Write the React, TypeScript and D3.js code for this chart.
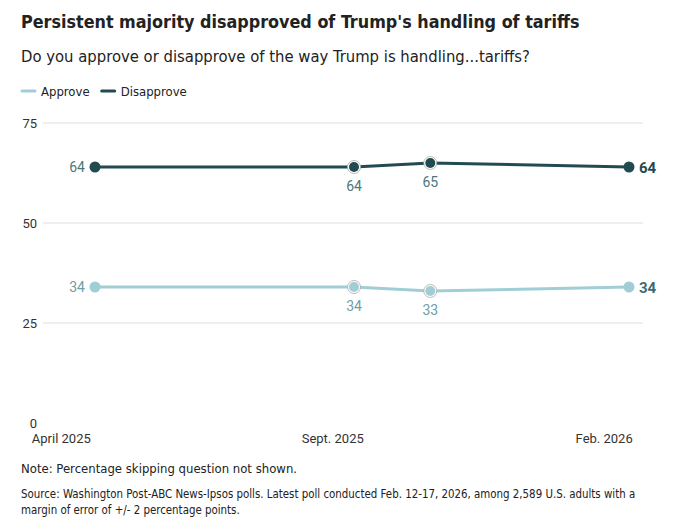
import { useEffect, useRef } from "react";
import * as d3 from "d3";

// poll field dates (midpoints) and results
const pollDates = ["2025-04-20", "2025-09-13", "2025-10-26", "2026-02-15"];
const approve = [34, 34, 33, 34];
const disapprove = [64, 64, 65, 64];
const yTicks = [0, 25, 50, 75];
const xTickDates = ["2025-04-01", "2025-09-01", "2026-02-01"];
const xTickLabels = ["April 2025", "Sept. 2025", "Feb. 2026"];

const W = 678;
const H = 522;
const LIGHT = "#a1ced5";
const DARK = "#214b51";
const COND = "'DejaVu Sans Condensed', 'Roboto', sans-serif";
const SANS = "'Roboto', 'Liberation Sans', sans-serif";

function App() {
  const svgRef = useRef<SVGSVGElement | null>(null);

  useEffect(() => {
    const svg = d3.select(svgRef.current!);
    svg.selectAll("*").remove();
    const parse = d3.timeParse("%Y-%m-%d");
    const dates = pollDates.map(d => parse(d)!);

    const x = d3.scaleTime().domain([dates[0], dates[dates.length - 1]]).range([95, 629]);
    const y = d3.scaleLinear().domain([0, 75]).range([423, 123]);

    // header
    svg.append("text").attr("x", 21).attr("y", 28).attr("font-family", COND)
      .attr("font-weight", "bold").attr("font-size", 17.8).attr("fill", "#222")
      .text("Persistent majority disapproved of Trump's handling of tariffs");
    svg.append("text").attr("x", 21).attr("y", 62).attr("font-family", COND)
      .attr("font-size", 16.5).attr("fill", "#222")
      .text("Do you approve or disapprove of the way Trump is handling...tariffs?");

    // legend
    const legend = [{ name: "Approve", c: LIGHT }, { name: "Disapprove", c: DARK }];
    let lx = 21;
    legend.forEach(l => {
      svg.append("line").attr("x1", lx + 1).attr("x2", lx + 14).attr("y1", 91).attr("y2", 91)
        .attr("stroke", l.c).attr("stroke-width", 3).attr("stroke-linecap", "round");
      const t = svg.append("text").attr("x", lx + 20).attr("y", 95.5).attr("font-family", COND)
        .attr("font-size", 13).attr("fill", "#222").text(l.name);
      lx += 20 + (t.node() as SVGTextElement).getComputedTextLength() + 11;
    });

    // grid + y labels
    svg.append("g").selectAll("line").data(yTicks.filter(t => t > 0)).join("line")
      .attr("x1", 43).attr("x2", 643).attr("y1", d => y(d)).attr("y2", d => y(d))
      .attr("stroke", "#dedede").attr("stroke-width", 1);
    svg.append("g").selectAll("text").data(yTicks).join("text")
      .attr("x", 37).attr("y", d => y(d) + 4.5).attr("text-anchor", "end")
      .attr("font-family", SANS).attr("font-size", 13).attr("fill", "#333").text(d => d);

    // x labels
    svg.append("g").selectAll("text").data(xTickDates).join("text")
      .attr("x", d => x(parse(d)!)).attr("y", 443).attr("text-anchor", "middle")
      .attr("font-family", SANS).attr("font-size", 13).attr("fill", "#333")
      .text((_, i) => xTickLabels[i]);

    const series = [
      { vals: approve, c: LIGHT, label: "#6f9ea5", end: "#3d6a70" },
      { vals: disapprove, c: DARK, label: "#4d777c", end: DARK },
    ];
    const line = d3.line<number>().x((_, i) => x(dates[i])).y(d => y(d));

    series.forEach(s => {
      svg.append("path").attr("d", line(s.vals)).attr("fill", "none")
        .attr("stroke", s.c).attr("stroke-width", 3);
      const n = s.vals.length;
      s.vals.forEach((v, i) => {
        const cx = x(dates[i]), cy = y(v);
        const mid = i > 0 && i < n - 1;
        if (mid) {
          svg.append("circle").attr("cx", cx).attr("cy", cy).attr("r", 6.5)
            .attr("fill", "#fff").attr("stroke", "#aaa").attr("stroke-width", 0.8);
        }
        svg.append("circle").attr("cx", cx).attr("cy", cy).attr("r", mid ? 5 : 5.5).attr("fill", s.c);
        const t = svg.append("text").attr("font-family", SANS).text(v);
        if (i === 0) {
          t.attr("x", cx - 10).attr("y", cy + 5).attr("text-anchor", "end")
            .attr("font-size", 14).attr("fill", s.label);
        } else if (mid) {
          t.attr("x", cx).attr("y", cy + 24).attr("text-anchor", "middle")
            .attr("font-size", 14).attr("fill", s.label);
        } else {
          t.attr("x", cx + 10).attr("y", cy + 5.5).attr("font-size", 15)
            .attr("font-weight", "bold").attr("fill", s.end);
        }
      });
    });

    // footer
    svg.append("text").attr("x", 21).attr("y", 473).attr("font-family", COND)
      .attr("font-size", 13).attr("fill", "#222").text("Note: Percentage skipping question not shown.");
    const src = [
      "Source: Washington Post-ABC News-Ipsos polls. Latest poll conducted Feb. 12-17, 2026, among 2,589 U.S. adults with a",
      "margin of error of +/- 2 percentage points.",
    ];
    src.forEach((s, i) => {
      svg.append("text").attr("x", 21).attr("y", 498 + i * 16).attr("font-family", COND)
        .attr("font-size", 11.4).attr("fill", "#222").text(s);
    });
  }, []);

  return (
    <svg ref={svgRef} width={W} height={H}
      style={{ position: "absolute", left: 0, top: 0, background: "#fff" }} />
  );
}

export default App;
